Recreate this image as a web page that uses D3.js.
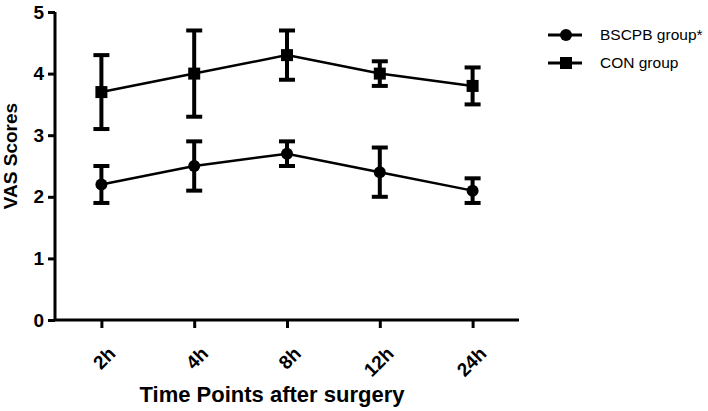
<!doctype html>
<html>
	<head>
		<style>
			body{ margin:0; background:#fff; }
			#chart text{ font-family: "Liberation Sans", Arial, sans-serif; }
		</style>
	</head>
	<body>
		<svg id=chart></svg>
		<script src="https://cdn.jsdelivr.net/npm/d3@7"></script>
		<script>
			var timePoints = ["2h", "4h", "8h", "12h", "24h"];
			var bscpbMean = [2.2, 2.5, 2.7, 2.4, 2.1];
			var bscpbErr  = [0.3, 0.4, 0.2, 0.4, 0.2];
			var conMean   = [3.7, 4.0, 4.3, 4.0, 3.8];
			var conErr    = [0.6, 0.7, 0.4, 0.2, 0.3];
			var yTicks = [0, 1, 2, 3, 4, 5];

			var series = [
				{name: "BSCPB group*", mean: bscpbMean, err: bscpbErr, shape: "circle"},
				{name: "CON group", mean: conMean, err: conErr, shape: "square"}
			];

			var chart = d3.select("#chart").attr("width", 708).attr("height", 411);

			var x = d3.scalePoint()
				.domain(timePoints)
				.range([55, 519])
				.padding(0.5);
			var y = d3.scaleLinear()
				.domain([0, 5])
				.range([320, 12]);

			// axes
			var yAxis = chart.append("g")
				.attr("transform", "translate(55,0)")
				.call(d3.axisLeft(y).tickValues(yTicks).tickFormat(d3.format("d")).tickSize(7).tickPadding(4));
			var xAxis = chart.append("g")
				.attr("transform", "translate(0,320)")
				.call(d3.axisBottom(x).tickSize(8).tickSizeOuter(0));
			chart.selectAll(".domain").attr("stroke", "#000").attr("stroke-width", 3);
			chart.selectAll(".tick line").attr("stroke", "#000").attr("stroke-width", 3);
			yAxis.select(".domain").attr("d", "M0,12V320");
			xAxis.select(".domain").attr("d", "M55,0H519");
			yAxis.selectAll(".tick text")
				.attr("font-size", 19).attr("font-weight", "bold").attr("fill", "#000");
			xAxis.selectAll(".tick text")
				.attr("font-size", 19).attr("font-weight", "bold").attr("fill", "#000")
				.attr("text-anchor", "end")
				.attr("transform", "translate(10,30) rotate(-45)")
				.attr("dy", "0.35em").attr("y", 0).attr("x", 0);

			chart.append("text")
				.attr("transform", "translate(17,156) rotate(-90)")
				.attr("text-anchor", "middle")
				.attr("font-size", 19).attr("font-weight", "bold")
				.text("VAS Scores");
			chart.append("text")
				.attr("x", 272).attr("y", 402)
				.attr("text-anchor", "middle")
				.attr("font-size", 22).attr("font-weight", "bold")
				.text("Time Points after surgery");

			function marker(g, shape) {
				if (shape == "square") {
					g.append("rect").attr("x", -6).attr("y", -6).attr("width", 12).attr("height", 12).attr("fill", "#000");
				} else {
					g.append("circle").attr("r", 6).attr("fill", "#000");
				}
			}

			var line = d3.line()
				.x(function(d, i) { return x(timePoints[i]); })
				.y(function(d) { return y(d); });

			series.forEach(function(s) {
				var g = chart.append("g");
				g.append("path")
					.attr("d", line(s.mean))
					.attr("fill", "none").attr("stroke", "#000").attr("stroke-width", 2.5);
				s.mean.forEach(function(m, i) {
					var cx = x(timePoints[i]);
					var eb = g.append("g").attr("stroke", "#000").attr("stroke-width", 4);
					eb.append("line").attr("x1", cx).attr("x2", cx).attr("y1", y(m - s.err[i])).attr("y2", y(m + s.err[i]));
					eb.append("line").attr("x1", cx - 8).attr("x2", cx + 8).attr("y1", y(m + s.err[i])).attr("y2", y(m + s.err[i]));
					eb.append("line").attr("x1", cx - 8).attr("x2", cx + 8).attr("y1", y(m - s.err[i])).attr("y2", y(m - s.err[i]));
					marker(g.append("g").attr("transform", "translate(" + cx + "," + y(m) + ")"), s.shape);
				});
			});

			// legend
			var legend = chart.selectAll(".legend")
				.data(series)
				.enter().append("g")
					.attr("transform", function(d, i) { return "translate(548," + (35 + i * 28) + ")"; });
			legend.append("line")
				.attr("x1", 0).attr("x2", 34)
				.attr("stroke", "#000").attr("stroke-width", 3);
			legend.each(function(d) {
				marker(d3.select(this).append("g").attr("transform", "translate(18,0)"), d.shape);
			});
			legend.append("text")
				.attr("x", 52).attr("dy", "0.35em")
				.attr("font-size", 15.5)
				.text(function(d) { return d.name; });
		</script>
	</body>
</html>
